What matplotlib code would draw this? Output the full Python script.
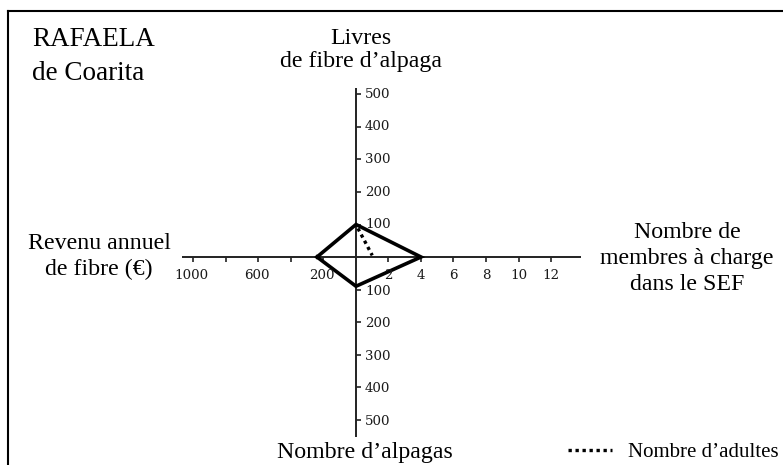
import matplotlib
matplotlib.use('Agg')
import matplotlib.pyplot as plt

# Valeurs
revenu = 240     # Revenu annuel de fibre (€), axe gauche
livres = 100     # Livres de fibre d'alpaga, axe haut
membres = 4      # Nombre de membres à charge dans le SEF, axe droit
alpagas = 90     # Nombre d'alpagas, axe bas
adultes = 1      # Nombre d'adultes (pointillé), axe droit

ticks_droite = [2, 4, 6, 8, 10, 12]
ticks_gauche = [200, 400, 600, 800, 1000]
labels_gauche = [200, 600, 1000]
ticks_haut = [100, 200, 300, 400, 500]
ticks_bas = [100, 200, 300, 400, 500]

# valeur d'une graduation sur chaque demi-axe
pas_droite = 2
pas_gauche = 200
pas_haut = 100
pas_bas = 100

###Mise en page (pixels de l'image 783x465)
W, H = 783, 465
ox, oy = 356, 257      # origine
u = 32.5               # pixels par graduation
left_px, top_px = 8, 11

def fx(px):
    return px / W

def fy(py):
    return 1 - py / H

serif = 'Liberation Serif'
tickfont = 'DejaVu Serif'
tickcol = '#1a1a1a'

fig = plt.figure(figsize=(W / 100, H / 100), dpi=100)
ax = fig.add_axes([fx(left_px), 0, (W - left_px) / W, (H - top_px) / H])
ax.set_xlim((left_px - ox) / u, (W - ox) / u)
ax.set_ylim(-(H - oy) / u, (oy - top_px) / u)
ax.set_xticks([])
ax.set_yticks([])
for s in ['right', 'bottom']:
    ax.spines[s].set_visible(False)
for s in ['top', 'left']:
    ax.spines[s].set_linewidth(1.5)

###Axes
axcol = '#222222'
ax.plot([-5.35, 6.92], [0, 0], color=axcol, lw=1.4, solid_capstyle='butt')
ax.plot([0, 0], [-5.55, 5.2], color=axcol, lw=1.4, solid_capstyle='butt')

#graduations horizontales
xr = [t / pas_droite for t in ticks_droite]
xl = [-t / pas_gauche for t in ticks_gauche]
ax.vlines(xr + xl, -0.16, 0, color=axcol, lw=1.2)
#graduations verticales
yh = [t / pas_haut for t in ticks_haut]
yb = [-t / pas_bas for t in ticks_bas]
ax.hlines(yh + yb, 0, 0.16, color=axcol, lw=1.2)

for t in ticks_droite:
    ax.text(t / pas_droite, -0.56, str(t), ha='center', va='center',
            family=tickfont, fontsize=9.6, color=tickcol)
for t in labels_gauche:
    ax.text(-t / pas_gauche - 0.05, -0.56, str(t), ha='center', va='center',
            family=tickfont, fontsize=9.6, color=tickcol)
for t in ticks_haut:
    ax.text(0.28, t / pas_haut, str(t), ha='left', va='center',
            family=tickfont, fontsize=9.6, color=tickcol)
for t in ticks_bas:
    ax.text(0.28, -t / pas_bas - 0.05, str(t), ha='left', va='center',
            family=tickfont, fontsize=9.6, color=tickcol)

###Losange
xs = [-revenu / pas_gauche, 0, membres / pas_droite, 0, -revenu / pas_gauche]
ys = [0, livres / pas_haut, 0, -alpagas / pas_bas, 0]
ax.plot(xs, ys, color='black', lw=2.6, solid_joinstyle='miter')

#Nombre d'adultes
ax.plot([0.06, adultes / pas_droite], [livres / pas_haut - 0.12, 0.05], color='black',
        lw=2.4, linestyle=(0, (1, 1.1)), label='Nombre d\u2019adultes')

###Textes (va='baseline' -> ligne du bas)
fig.text(fx(32), fy(80), 'RAFAELA\nde Coarita', ha='left', va='baseline',
         family=serif, fontsize=19.5, linespacing=1.45)
fig.text(fx(361), fy(66.7), 'Livres\nde fibre d\u2019alpaga', ha='center', va='baseline',
         multialignment='center', family=serif, fontsize=17.2, linespacing=1.13)
fig.text(fx(99), fy(275), 'Revenu annuel\nde fibre (\u20ac)', ha='center', va='baseline',
         multialignment='center', family=serif, fontsize=17.2, linespacing=1.27)
fig.text(fx(687), fy(290), 'Nombre de\nmembres \u00e0 charge\ndans le SEF', ha='center',
         va='baseline', multialignment='center', family=serif, fontsize=17.2, linespacing=1.32)
fig.text(fx(365), fy(458), 'Nombre d\u2019alpagas', ha='center', va='baseline',
         family=serif, fontsize=17.2)

ax.legend(loc='lower left', bbox_to_anchor=(fx(568), 0.006), bbox_transform=fig.transFigure,
          frameon=False, borderpad=0, borderaxespad=0, handlelength=2.1,
          handletextpad=0.77, prop={'family': serif, 'size': 15})

fig.savefig('out.png', dpi=100)
